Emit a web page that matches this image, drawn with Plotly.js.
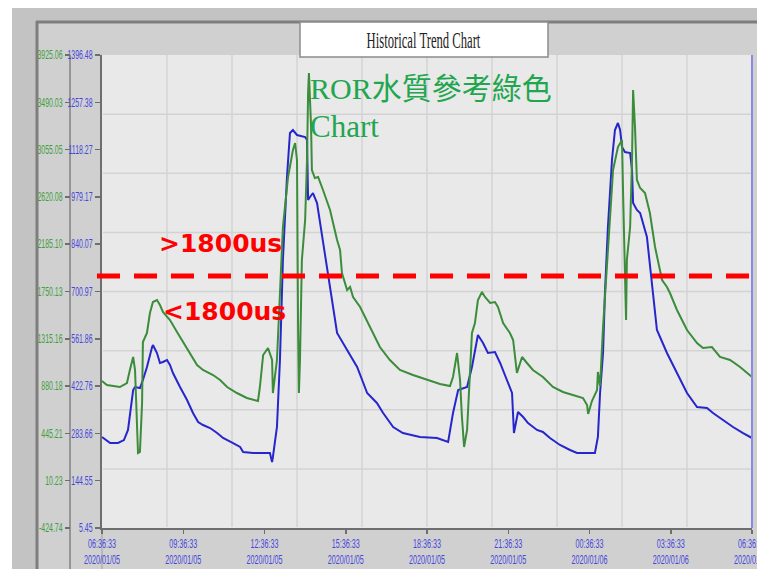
<!DOCTYPE html>
<html>
<head>
<meta charset="utf-8">
<script src="https://cdn.plot.ly/plotly-3.0.1.min.js"></script>
<style>
html,body{margin:0;padding:0;background:#ffffff;}
#chart{width:757px;height:569px;}
</style>
</head>
<body>
<div id="chart"></div>
<script>
// ---------------- data ----------------
const startTime = '2020-01-05 06:36:33';

const blueHours = [0,0.30,0.59,0.81,0.96,1.15,1.22,1.40,1.51,1.66,1.85,1.88,2.03,2.14,2.25,2.40,2.51,2.62,2.88,3.14,3.36,3.55,3.73,3.99,4.25,4.47,4.84,5.10,5.21,5.58,5.95,6.20,6.28,6.31,6.46,6.57,6.68,6.83,6.94,7.05,7.20,7.31,7.50,7.57,7.61,7.68,7.79,7.94,8.16,8.42,8.68,9.05,9.42,9.79,10.15,10.38,10.75,11.11,11.74,12.37,12.78,12.96,13.15,13.48,13.66,13.88,14.07,14.25,14.51,14.70,14.95,15.14,15.21,15.36,15.55,15.73,16.06,16.28,16.54,16.91,17.28,17.54,17.91,18.20,18.31,18.39,18.50,18.57,18.68,18.83,18.94,19.05,19.13,19.20,19.31,19.50,19.57,19.61,19.75,19.87,20.12,20.31,20.49,20.86,21.23,21.60,21.97,22.34,22.56,22.93,23.30,23.67,24.00];
const blueValues = [273.1,255.4,255.4,264.2,293.7,411.3,420.1,417.2,440.7,478.9,537.8,543.6,520.1,490.7,493.7,499.5,484.8,461.3,420.1,381.9,343.7,317.2,308.4,299.5,284.8,270.1,255.4,243.7,229.0,226.0,226.0,226.0,199.5,214.3,302.5,499.5,793.6,1037.7,1167.1,1175.9,1161.2,1158.3,1155.3,1146.5,970.1,978.9,990.6,961.2,843.6,714.2,578.9,528.9,478.9,402.5,373.1,343.7,302.5,284.8,273.1,270.1,258.4,343.7,411.3,420.1,478.9,573.0,549.5,520.1,523.0,490.7,440.7,402.5,284.8,346.6,331.9,314.2,293.7,287.8,270.1,249.5,234.8,226.0,226.0,226.0,273.1,402.5,520.1,696.6,890.6,1087.7,1175.9,1196.5,1175.9,1125.9,1111.2,1108.3,1058.3,961.2,940.7,931.8,861.3,714.2,587.7,520.1,461.3,402.5,361.3,358.4,343.7,323.1,302.5,284.8,270.1];

const greenHours = [0,0.18,0.66,0.92,1.03,1.15,1.22,1.29,1.33,1.40,1.48,1.51,1.66,1.77,1.88,2.03,2.14,2.25,2.51,2.77,2.99,3.25,3.51,3.73,4.10,4.36,4.62,4.98,5.35,5.76,5.83,5.95,6.13,6.28,6.31,6.46,6.57,6.68,6.87,7.05,7.13,7.20,7.24,7.27,7.31,7.38,7.50,7.57,7.61,7.64,7.72,7.75,7.86,7.98,8.16,8.42,8.68,8.79,8.86,9.05,9.16,9.27,9.53,9.90,10.26,10.63,11.00,11.48,12.00,12.48,12.85,12.96,13.11,13.22,13.29,13.37,13.48,13.59,13.66,13.77,13.88,14.03,14.14,14.33,14.51,14.62,14.81,15.06,15.18,15.32,15.51,15.69,15.91,16.28,16.65,17.02,17.39,17.76,17.91,17.95,18.09,18.28,18.31,18.39,18.50,18.65,18.76,18.87,19.05,19.20,19.24,19.31,19.35,19.38,19.50,19.57,19.61,19.68,19.75,19.87,20.05,20.23,20.42,20.68,20.86,20.97,21.23,21.60,21.97,22.19,22.52,22.82,23.19,23.56,24.00];
const greenValues = [927.1,890.3,871.9,908.7,1028.2,1147.8,1028.2,568.4,265.0,274.2,724.8,1285.7,1368.5,1552.4,1653.6,1672.0,1626.0,1561.6,1488.0,1377.7,1285.7,1184.6,1074.2,1028.2,982.3,936.3,871.9,816.7,770.7,743.2,871.9,1166.2,1230.5,1120.2,816.7,1120.2,1736.3,2343.3,2803.1,3051.4,3115.7,2959.4,1423.7,816.7,1120.2,2039.8,2407.6,2959.4,3575.5,3759.4,3262.9,2867.4,2793.9,2803.1,2683.5,2499.6,2223.7,2131.7,1920.2,1763.9,1791.5,1699.5,1607.6,1423.7,1239.7,1120.2,1028.2,982.3,936.3,899.5,881.1,963.9,1184.6,936.3,596.0,320.1,476.5,1120.2,1368.5,1460.4,1672.0,1745.5,1699.5,1644.4,1653.6,1607.6,1460.4,1368.5,1304.1,1000.6,1147.8,1092.6,1028.2,963.9,871.9,825.9,798.4,770.7,706.4,623.6,743.2,844.3,1009.8,881.1,1423.7,2039.8,2499.6,2867.4,3079.0,3143.3,2655.9,1736.3,1488.0,2039.8,2343.3,2959.4,3603.1,3262.9,2775.5,2701.9,2655.9,2472.0,2159.3,1855.8,1791.5,1736.3,1580.0,1396.1,1276.5,1230.5,1239.7,1147.8,1120.2,1055.8,963.9];

const xTickVals = ['2020-01-05 06:36:33','2020-01-05 09:36:33','2020-01-05 12:36:33','2020-01-05 15:36:33','2020-01-05 18:36:33','2020-01-05 21:36:33','2020-01-06 00:36:33','2020-01-06 03:36:33','2020-01-06 06:36:33'];
const xTickText = ['06:36:33<br>2020/01/05','09:36:33<br>2020/01/05','12:36:33<br>2020/01/05','15:36:33<br>2020/01/05','18:36:33<br>2020/01/05','21:36:33<br>2020/01/05','00:36:33<br>2020/01/06','03:36:33<br>2020/01/06','06:36:33<br>2020/01/06'];

const blueTicks = [5.45,144.55,283.66,422.76,561.86,700.97,840.07,979.17,1118.27,1257.38,1396.48];
const blueTickText = ['5.45','144.55','283.66','422.76','561.86','700.97','840.07','979.17','1118.27','1257.38','1396.48'];
const greenTicks = [-424.74,10.23,445.21,880.18,1315.16,1750.13,2185.10,2620.08,3055.05,3490.03,3925.06];
const greenTickText = ['-424.74','10.23','445.21','880.18','1315.16','1750.13','2185.10','2620.08','3055.05','3490.03','3925.06'];

const chartTitle = 'Historical Trend Chart';
const noteTitle1 = 'ROR水質參考綠色';
const noteTitle2 = 'Chart';
const aboveLabel = '>1800us';
const belowLabel = '<1800us';

// ---------------- helpers ----------------
const baseMs = Date.UTC(2020,0,5,6,36,33);
function toDate(h){
  return new Date(baseMs + Math.round(h*3600000)).toISOString().replace('T',' ').replace('Z','');
}
const ML=0, MR=5, MT=55, MB=41;
const PW = 757-ML-MR, PH = 569-MT-MB;
const fx = p => (p-ML)/PW;
const fy = p => 1-(p-MT)/PH;

// ---------------- traces ----------------
const blueTrace = {
  x: blueHours.map(toDate), y: blueValues, type:'scatter', mode:'lines',
  line:{color:'#2626cc', width:2}, yaxis:'y', hoverinfo:'skip'
};
const greenTrace = {
  x: greenHours.map(toDate), y: greenValues, type:'scatter', mode:'lines',
  line:{color:'#3b8c3b', width:2}, yaxis:'y2', hoverinfo:'skip'
};

// ---------------- shapes ----------------
const shapes = [];
function rect(x0,y0,x1,y1,fill,layer,lineColor,lineW){
  shapes.push({type:'rect', xref:'paper', yref:'paper', x0:fx(x0), x1:fx(x1), y0:fy(y0), y1:fy(y1),
    fillcolor:fill, line:{color:lineColor||fill, width:lineW||0}, layer:layer||'below'});
}
function line(x0,y0,x1,y1,color,w,layer,dash){
  shapes.push({type:'line', xref:'paper', yref:'paper', x0:fx(x0), x1:fx(x1), y0:fy(y0), y1:fy(y1),
    line:{color:color, width:w, dash:dash||'solid'}, layer:layer||'below'});
}
// outer frame bands
rect(12,8,757,21,'#c3c3c3');
rect(12,8,36,569,'#c3c3c3');
rect(0,0,757,8,'#ffffff');
rect(0,0,12,569,'#ffffff');
// frame lines
line(37,21,37,569,'#7e7e7e',3);
line(36,22,757,22,'#7e7e7e',3);
line(70,55,70,569,'#959595',2);
line(102,528,102,569,'#a0a0a0',1);
// grid
for(let k=1;k<10;k++){ const px=102+65*k; line(px,55,px,527,'#d3d3d3',1.5); }
for(let k=1;k<8;k++){ const py=55+59.125*k; line(103,py,752,py,'#d3d3d3',1.5); }
// right edge
line(752,55,752,528,'#8a8ae6',2,'above');
// threshold dashed line
line(97,276,757,276,'#ff0000',5,'above','23px,14px');
// title box
rect(300,22,548,57,'#ffffff','above','#8c8c8c',1.5);

// ---------------- annotations ----------------
const annotations = [
  {text:chartTitle, xref:'paper', yref:'paper', x:fx(424), y:fy(40), xanchor:'center', yanchor:'middle',
   showarrow:false, font:{family:'Liberation Serif, serif', size:23, color:'#1e1e1e'}},
  {text:noteTitle1, xref:'paper', yref:'paper', x:fx(308), y:fy(88), xanchor:'left', yanchor:'middle',
   showarrow:false, font:{family:'Liberation Serif, Noto Sans CJK TC, serif', size:30, color:'#1fa64f'}},
  {text:noteTitle2, xref:'paper', yref:'paper', x:fx(308), y:fy(127), xanchor:'left', yanchor:'middle',
   showarrow:false, font:{family:'Liberation Serif, serif', size:31, color:'#1fa64f'}},
  {text:aboveLabel, xref:'paper', yref:'paper', x:fx(220), y:fy(243), xanchor:'center', yanchor:'middle',
   showarrow:false, font:{family:'DejaVu Sans, sans-serif', size:25, color:'#ff0000', weight:'bold'}},
  {text:belowLabel, xref:'paper', yref:'paper', x:fx(224), y:fy(311), xanchor:'center', yanchor:'middle',
   showarrow:false, font:{family:'DejaVu Sans, sans-serif', size:25, color:'#ff0000', weight:'bold'}}
];

const tickFont = {family:'Liberation Sans, Arial, sans-serif', size:12};

const layout = {
  width:757, height:569,
  margin:{l:ML, r:MR, t:MT, b:MB, pad:0, autoexpand:false},
  paper_bgcolor:'#d0d0d0',
  plot_bgcolor:'#e9e9e9',
  showlegend:false,
  xaxis:{
    type:'date', domain:[fx(102),1],
    range:[xTickVals[0], xTickVals[xTickVals.length-1]],
    tickmode:'array', tickvals:xTickVals, ticktext:xTickText,
    ticks:'outside', ticklen:4, tickwidth:1.5, tickcolor:'#6e6e6e',
    tickfont:Object.assign({color:'#4646dc'}, tickFont),
    ticklabeloverflow:'allow',
    showline:true, linecolor:'#6e6e6e', linewidth:2,
    showgrid:false, zeroline:false, fixedrange:true
  },
  yaxis:{
    range:[blueTicks[0], blueTicks[blueTicks.length-1]],
    tickmode:'array', tickvals:blueTicks, ticktext:blueTickText,
    ticks:'outside', ticklen:5, tickwidth:1.5, tickcolor:'#6e6e6e',
    tickfont:Object.assign({color:'#4646dc'}, tickFont),
    showline:true, linecolor:'#6e6e6e', linewidth:2,
    showgrid:false, zeroline:false, fixedrange:true
  },
  yaxis2:{
    overlaying:'y', side:'left', anchor:'free', position:fx(70),
    range:[greenTicks[0], greenTicks[greenTicks.length-1]],
    tickmode:'array', tickvals:greenTicks, ticktext:greenTickText,
    ticks:'outside', ticklen:5, tickwidth:1.5, tickcolor:'#6e6e6e',
    tickfont:Object.assign({color:'#3f9f3f'}, tickFont),
    showline:false, showgrid:false, zeroline:false, fixedrange:true
  },
  shapes:shapes,
  annotations:annotations
};

Plotly.newPlot('chart', [blueTrace, greenTrace], layout, {staticPlot:true, displayModeBar:false}).then(function(gd){
  function squeeze(sel, s){
    gd.querySelectorAll(sel).forEach(function(t){
      const x = parseFloat(t.getAttribute('x')) || 0;
      const tr = t.getAttribute('transform') || '';
      t.setAttribute('transform', tr + ' translate(' + x + ',0) scale(' + s + ',1) translate(' + (-x) + ',0)');
    });
  }
  squeeze('.xtick text', 0.6);
  squeeze('.ytick text', 0.58);
  squeeze('.y2tick text', 0.58);
  squeeze('.annotation[data-index="0"] text.annotation-text', 0.55);
});
</script>
</body>
</html>
